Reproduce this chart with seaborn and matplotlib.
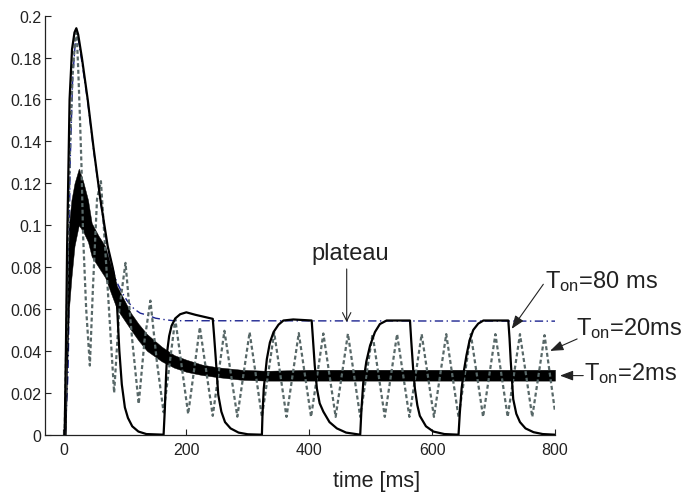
import matplotlib
matplotlib.use("Agg")
import matplotlib.pyplot as plt
import seaborn as sns

# ---- T_on = 80 ms response (solid) ----
t_80 = [2, 4, 6, 8, 10, 14, 18, 21, 24, 30, 39.5, 49, 60, 72, 80, 84, 87, 91, 95, 100,
        105, 112, 122, 135, 163, 165, 167, 169, 172, 176, 182, 190, 200, 215, 243, 245,
        248, 252, 257, 263, 272, 285, 300, 323, 324, 326, 331, 336, 342, 350, 358, 374,
        404, 406, 409, 412.5, 417, 423, 433, 445, 460, 483, 485, 488, 493, 499, 507, 515,
        526, 564, 566, 569, 572, 576, 580, 590, 602, 620, 643, 645, 648, 652, 656, 661,
        667, 675, 683.5, 724, 726, 728, 732, 737, 743, 752, 765, 780, 800]
v_80 = [0, 0.04, 0.09, 0.125, 0.160, 0.184, 0.192, 0.194, 0.191, 0.180, 0.160, 0.137,
        0.1125, 0.090, 0.080, 0.074, 0.063, 0.040, 0.024, 0.013, 0.008, 0.004, 0.0015,
        0.0003, 0, 0.012, 0.028, 0.040, 0.047, 0.052, 0.0555, 0.0575, 0.0584, 0.0572,
        0.0553, 0.048, 0.036, 0.019, 0.011, 0.006, 0.003, 0.001, 0.0002, 0, 0.010, 0.022,
        0.036, 0.044, 0.049, 0.0525, 0.0545, 0.055, 0.0545, 0.046, 0.033, 0.022, 0.015,
        0.011, 0.006, 0.003, 0.001, 0, 0.012, 0.025, 0.035, 0.0425, 0.049, 0.0528, 0.0545,
        0.0545, 0.045, 0.032, 0.022, 0.014, 0.009, 0.004, 0.0015, 0.0003, 0, 0.010, 0.022,
        0.031, 0.038, 0.045, 0.050, 0.053, 0.0545, 0.0545, 0.046, 0.035, 0.017, 0.010,
        0.006, 0.003, 0.0012, 0.0003, 0]

# ---- plateau (continuous stimulation, dash-dot) ----
t_plateau = [3, 7.5, 8.5, 9, 11, 15, 20, 24, 30, 39.5, 49, 60, 72, 80, 84, 87, 95,
             103.5, 115, 125, 136, 150, 165, 179, 800]
v_plateau = [0, 0.03, 0.046, 0.085, 0.13, 0.17, 0.19, 0.189, 0.178, 0.159, 0.136, 0.112,
             0.089, 0.080, 0.075, 0.0727, 0.068, 0.064, 0.060, 0.058, 0.0571, 0.0556,
             0.0549, 0.0544, 0.0542]

# ---- T_on = 20 ms response (dotted) ----
t_20 = [2, 5, 8, 11, 15, 19, 21.5, 24, 27, 29.5, 32, 37, 43, 48, 54.7, 61, 72, 82.5,
        91, 101, 112, 122.5, 132, 141.5, 152, 163, 182, 203, 222, 243, 262, 283, 303,
        323, 343, 363, 383, 403, 423, 443, 463, 483, 503, 523, 543, 563, 583, 603, 623,
        643, 663, 683, 703, 723, 743, 763, 783, 800]
v_20 = [0, 0.05, 0.10, 0.14, 0.172, 0.188, 0.192, 0.175, 0.15, 0.127, 0.095, 0.06, 0.033,
        0.07, 0.1125, 0.121, 0.07, 0.020, 0.06, 0.082, 0.045, 0.0147, 0.045, 0.064, 0.035,
        0.0107, 0.0552, 0.0099, 0.0513, 0.009, 0.0496, 0.0086, 0.0489, 0.0085, 0.0487,
        0.0085, 0.0485, 0.0085, 0.0483, 0.0085, 0.0482, 0.0085, 0.048, 0.0085, 0.048,
        0.0085, 0.048, 0.0085, 0.048, 0.0085, 0.048, 0.0085, 0.048, 0.0085, 0.048, 0.0085,
        0.0475, 0.011]

# ---- T_on = 2 ms response: fast ripple band (lower / upper envelope) ----
t_2 = [3, 4, 6, 9, 13, 18, 25, 32, 40, 46, 57, 68, 78, 87, 95, 110, 122, 136, 160, 180,
       200, 225, 250, 290, 331, 400, 800]
lo_2 = [0, 0, 0.03, 0.06, 0.075, 0.09, 0.10, 0.097, 0.092, 0.085, 0.080, 0.075, 0.067,
        0.060, 0.0565, 0.050, 0.045, 0.040, 0.035, 0.032, 0.030, 0.0285, 0.0275, 0.0262,
        0.0258, 0.0258, 0.0258]
hi_2 = [0, 0.01, 0.07, 0.10, 0.112, 0.12, 0.127, 0.121, 0.112, 0.101, 0.095, 0.090,
        0.080, 0.071, 0.0665, 0.058, 0.053, 0.048, 0.042, 0.038, 0.0358, 0.0335, 0.0322,
        0.031, 0.0305, 0.031, 0.031]

x_ticks = [0, 200, 400, 600, 800]
y_ticks = [0, 0.02, 0.04, 0.06, 0.08, 0.1, 0.12, 0.14, 0.16, 0.18, 0.2]
y_tick_labels = ["0", "0.02", "0.04", "0.06", "0.08", "0.1", "0.12", "0.14", "0.16",
                 "0.18", "0.2"]

sns.set_style("ticks")
plt.rcParams["font.family"] = ["Liberation Sans", "DejaVu Sans"]
plt.rcParams["mathtext.fontset"] = "custom"
plt.rcParams["mathtext.rm"] = "Liberation Sans"
plt.rcParams["mathtext.it"] = "Liberation Sans:italic"

fig = plt.figure(figsize=(6.81, 5.02), dpi=100)
ax = fig.add_axes([45 / 681, 0.1321, 510 / 681, 0.8347])

sns.lineplot(x=t_plateau, y=v_plateau, ax=ax, estimator=None, sort=False,
             color="#1c2490", lw=1.0, linestyle=(0, (6, 2.5, 1, 2.5)), zorder=2)
ax.fill_between(t_2, lo_2, hi_2, color="black", lw=0.3, edgecolor="black", zorder=3)
sns.lineplot(x=t_20, y=v_20, ax=ax, estimator=None, sort=False,
             color="#586868", lw=1.6, linestyle=(0, (1.8, 1.2)), zorder=4)
sns.lineplot(x=t_80, y=v_80, ax=ax, estimator=None, sort=False,
             color="black", lw=1.6, zorder=5)

ax.set_xlim(-30, 800)
ax.set_ylim(0, 0.2)
ax.set_xticks(x_ticks)
ax.set_xticklabels([str(v) for v in x_ticks])
ax.set_yticks(y_ticks)
ax.set_yticklabels(y_tick_labels)
ax.tick_params(axis="both", direction="in", length=4.5, width=0.8, labelsize=11.5,
               color="#222222", labelcolor="#222222")
ax.tick_params(axis="x", pad=5)
ax.tick_params(axis="y", pad=2.5)
sns.despine(ax=ax)
for side in ("left", "bottom"):
    ax.spines[side].set_linewidth(0.9)
    ax.spines[side].set_color("#222222")

ax.set_xlabel("time [ms]", fontsize=15.5, color="#222222")
ax.xaxis.set_label_coords(0.65, -0.085)
ax.set_ylabel("")

# annotations
ax.text(404, 0.0839, "plateau", fontsize=17, ha="left", va="baseline", color="#222222")
ax.annotate("", xy=(461, 0.0537), xytext=(461, 0.0791), annotation_clip=False,
            arrowprops=dict(arrowstyle="->,head_length=0.6,head_width=0.3", lw=0.8,
                            color="#222222", shrinkA=0, shrinkB=0))

ax.text(783.7, 0.0704, r"T$_{\mathrm{on}}$=80 ms", fontsize=17, ha="left",
        va="baseline", color="#222222", clip_on=False)
ax.annotate("", xy=(729.5, 0.0505), xytext=(781, 0.0718), annotation_clip=False,
            arrowprops=dict(arrowstyle="-|>,head_length=0.8,head_width=0.3", lw=0.8,
                            color="#222222", shrinkA=0, shrinkB=0))

ax.text(834.3, 0.048, r"T$_{\mathrm{on}}$=20ms", fontsize=17, ha="left",
        va="baseline", color="#222222", clip_on=False)
ax.annotate("", xy=(792, 0.040), xytext=(836, 0.0457), annotation_clip=False,
            arrowprops=dict(arrowstyle="-|>,head_length=0.8,head_width=0.3", lw=0.8,
                            color="#222222", shrinkA=0, shrinkB=0))

ax.text(848, 0.0266, r"T$_{\mathrm{on}}$=2ms", fontsize=17, ha="left",
        va="baseline", color="#222222", clip_on=False)
ax.annotate("", xy=(808, 0.0282), xytext=(846, 0.0282), annotation_clip=False,
            arrowprops=dict(arrowstyle="-|>,head_length=0.8,head_width=0.3", lw=0.8,
                            color="#222222", shrinkA=0, shrinkB=0))

fig.savefig("out.png", dpi=100)
